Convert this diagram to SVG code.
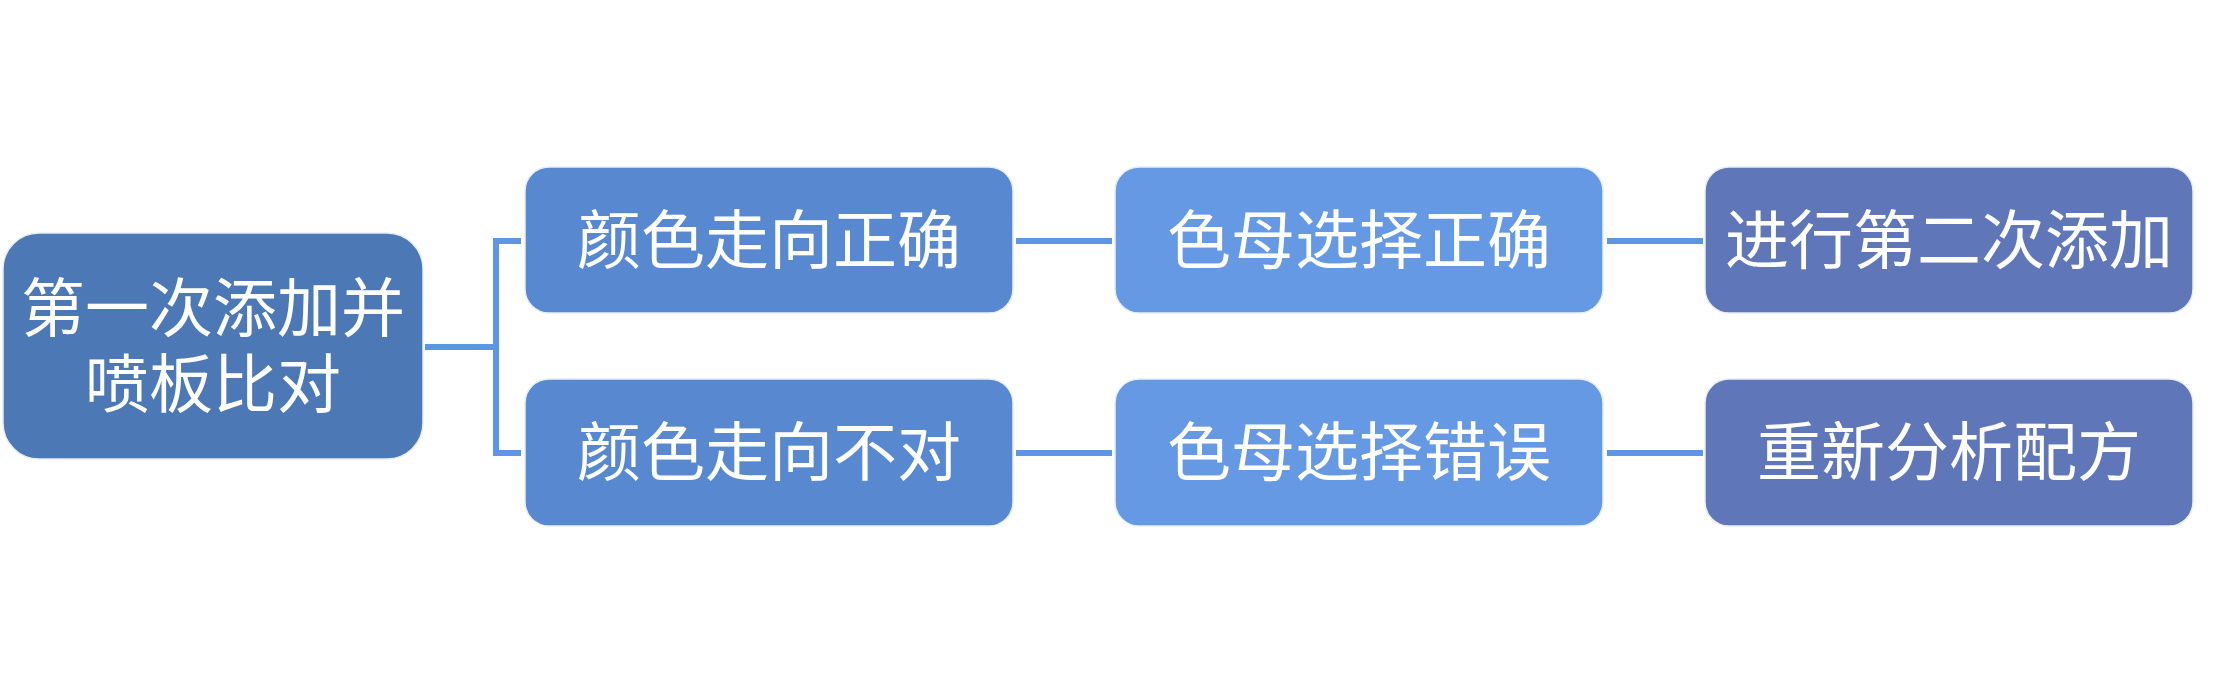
<svg xmlns="http://www.w3.org/2000/svg" width="2213" height="694" viewBox="0 0 2213 694">
<style>
.t{font-family:"Noto Sans CJK SC","Noto Sans CJK JP",sans-serif;font-size:64px;fill:#ffffff;text-anchor:middle}
.n{stroke:#e8eef8;stroke-width:1.5}
.c{fill:none;stroke:#5E96E6;stroke-width:6}
</style>
<rect width="2213" height="694" fill="#ffffff"/>
<g id="connectors">
<path class="c" d="M425,347 H496 M496,238 V456 M493,241 H521 M493,453 H521"/>
<path class="c" d="M1016,241 H1112 M1016,453 H1112"/>
<path class="c" d="M1607,241 H1703 M1607,453 H1703"/>
</g>
<g id="root">
<rect class="n" x="3" y="233" width="420" height="226" rx="36" fill="#4C78B6"/>
<text class="t" x="213" y="331">第一次添加并</text>
<text class="t" x="213" y="407">喷板比对</text>
</g>
<g id="n1">
<rect class="n" x="525" y="167" width="488" height="146" rx="24" fill="#5889D0"/>
<text class="t" x="769" y="263">颜色走向正确</text>
</g>
<g id="n2">
<rect class="n" x="525" y="379" width="488" height="147" rx="24" fill="#5889D0"/>
<text class="t" x="769" y="475">颜色走向不对</text>
</g>
<g id="n3">
<rect class="n" x="1115" y="167" width="488" height="146" rx="24" fill="#6699E4"/>
<text class="t" x="1359" y="263">色母选择正确</text>
</g>
<g id="n4">
<rect class="n" x="1115" y="379" width="488" height="147" rx="24" fill="#6699E4"/>
<text class="t" x="1359" y="475">色母选择错误</text>
</g>
<g id="n5">
<rect class="n" x="1705" y="167" width="488" height="146" rx="24" fill="#5F77B9"/>
<text class="t" x="1949" y="263">进行第二次添加</text>
</g>
<g id="n6">
<rect class="n" x="1705" y="379" width="488" height="147" rx="24" fill="#5F77B9"/>
<text class="t" x="1949" y="475">重新分析配方</text>
</g>
</svg>
